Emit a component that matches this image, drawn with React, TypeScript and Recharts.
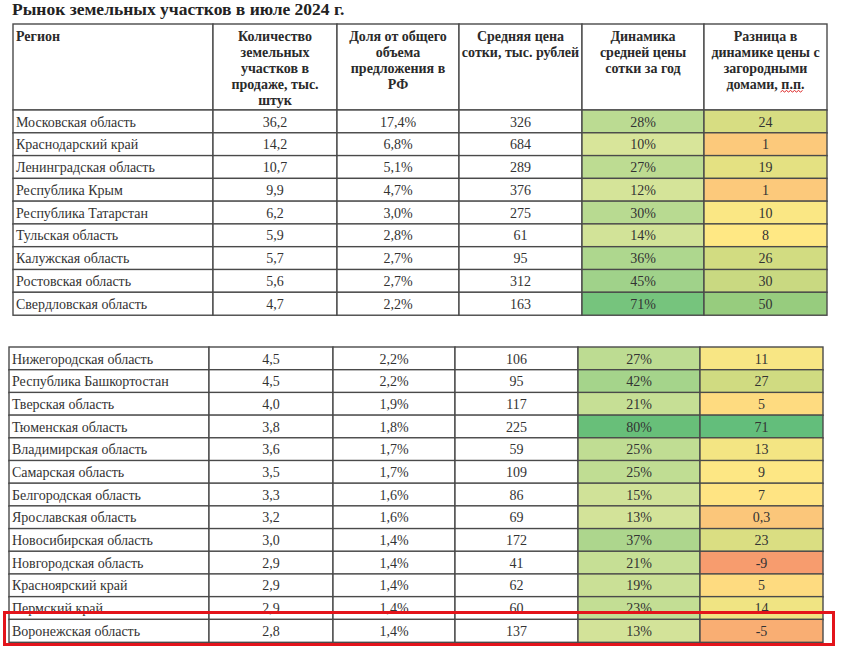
import { Bar, BarChart, XAxis, YAxis } from "recharts";

const TITLE = "Рынок земельных участков в июле 2024 г.";

const HEADERS = [
  ["Регион"],
  ["Количество", "земельных", "участков в", "продаже, тыс.", "штук"],
  ["Доля от общего", "объема", "предложения в", "РФ"],
  ["Средняя цена", "сотки, тыс. рублей"],
  ["Динамика", "средней цены", "сотки за год"],
  ["Разница в", "динамике цены с", "загородными", "домами, п.п."],
];

// top-9 regions
const REGIONS_TOP = [
  "Московская область",
  "Краснодарский край",
  "Ленинградская область",
  "Республика Крым",
  "Республика Татарстан",
  "Тульская область",
  "Калужская область",
  "Ростовская область",
  "Свердловская область",
];
const COUNT_TOP = [36.2, 14.2, 10.7, 9.9, 6.2, 5.9, 5.7, 5.6, 4.7];
const SHARE_TOP = [17.4, 6.8, 5.1, 4.7, 3.0, 2.8, 2.7, 2.7, 2.2];
const PRICE_TOP = [326, 684, 289, 376, 275, 61, 95, 312, 163];
const DYN_TOP = [28, 10, 27, 12, 30, 14, 36, 45, 71];
const DIFF_TOP = [24, 1, 19, 1, 10, 8, 26, 30, 50];

// second block
const REGIONS_REST = [
  "Нижегородская область",
  "Республика Башкортостан",
  "Тверская область",
  "Тюменская область",
  "Владимирская область",
  "Самарская область",
  "Белгородская область",
  "Ярославская область",
  "Новосибирская область",
  "Новгородская область",
  "Красноярский край",
  "Пермский край",
  "Воронежская область",
];
const COUNT_REST = [4.5, 4.5, 4.0, 3.8, 3.6, 3.5, 3.3, 3.2, 3.0, 2.9, 2.9, 2.9, 2.8];
const SHARE_REST = [2.2, 2.2, 1.9, 1.8, 1.7, 1.7, 1.6, 1.6, 1.4, 1.4, 1.4, 1.4, 1.4];
const PRICE_REST = [106, 95, 117, 225, 59, 109, 86, 69, 172, 41, 62, 60, 137];
const DYN_REST = [27, 42, 21, 80, 25, 25, 15, 13, 37, 21, 19, 23, 13];
const DIFF_REST = [11, 27, 5, 71, 13, 9, 7, 0.3, 23, -9, 5, 14, -5];

const COL_W = [200, 124, 122, 123, 122, 123];
const TABLE_W = COL_W.reduce((a, b) => a + b, 0);
const FONT = '"Liberation Serif", "Times New Roman", serif';
const BORDER = "#4a4a4a";
const TEXT = "#333";
const PAD = 2;

type Row = {
  region: string;
  count: number;
  share: number;
  price: number;
  dyn: number;
  diff: number;
};

const toRows = (
  regions: string[],
  count: number[],
  share: number[],
  price: number[],
  dyn: number[],
  diff: number[]
): Row[] =>
  regions.map((region, i) => ({
    region,
    count: count[i],
    share: share[i],
    price: price[i],
    dyn: dyn[i],
    diff: diff[i],
  }));

const ROWS_TOP = toRows(REGIONS_TOP, COUNT_TOP, SHARE_TOP, PRICE_TOP, DYN_TOP, DIFF_TOP);
const ROWS_REST = toRows(REGIONS_REST, COUNT_REST, SHARE_REST, PRICE_REST, DYN_REST, DIFF_REST);

// excel-like colour scales
const ALL_DYN = [...DYN_TOP, ...DYN_REST];
const ALL_DIFF = [...DIFF_TOP, ...DIFF_REST];
const DYN_MIN = Math.min(...ALL_DYN);
const DYN_MAX = Math.max(...ALL_DYN);
const DIFF_MIN = Math.min(...ALL_DIFF);
const DIFF_MAX = Math.max(...ALL_DIFF);
const DIFF_MID = 8;

const mix = (a: number[], b: number[], t: number) =>
  `rgb(${a.map((c, i) => Math.round(c + (b[i] - c) * t)).join(",")})`;

const dynColor = (v: number) =>
  mix([216, 229, 154], [104, 191, 121], (v - DYN_MIN) / (DYN_MAX - DYN_MIN));

const diffColor = (v: number) =>
  v <= DIFF_MID
    ? mix([247, 156, 110], [255, 232, 132], (v - DIFF_MIN) / (DIFF_MID - DIFF_MIN))
    : mix([255, 232, 132], [99, 190, 123], (v - DIFF_MID) / (DIFF_MAX - DIFF_MID));

const fmt = (v: number, digits?: number) =>
  (digits != null ? v.toFixed(digits) : String(v)).replace(".", ",");

const COLUMNS: { text: (r: Row) => string; fill?: (r: Row) => string }[] = [
  { text: (r) => r.region },
  { text: (r) => fmt(r.count, 1) },
  { text: (r) => fmt(r.share, 1) + "%" },
  { text: (r) => String(r.price) },
  { text: (r) => r.dyn + "%", fill: (r) => dynColor(r.dyn) },
  { text: (r) => fmt(r.diff), fill: (r) => diffColor(r.diff) },
];

const TEXT_STYLE = { fontFamily: FONT, fontSize: 14, fill: TEXT };

function bodyCell(col: number) {
  return (props: any) => {
    const { x, y, width, height, payload } = props;
    const spec = COLUMNS[col];
    const left = col === 0;
    return (
      <g>
        <rect
          x={x}
          y={y}
          width={width}
          height={height}
          fill={spec.fill ? spec.fill(payload) : "#fff"}
          stroke={BORDER}
          strokeWidth={1.4}
        />
        <text
          x={left ? x + 3 : x + width / 2}
          y={y + height / 2 + 5}
          textAnchor={left ? "start" : "middle"}
          style={TEXT_STYLE}
        >
          {spec.text(payload)}
        </text>
      </g>
    );
  };
}

function headerCell(col: number) {
  return (props: any) => {
    const { x, y, width, height } = props;
    const left = col === 0;
    const lines = HEADERS[col];
    return (
      <g>
        <rect x={x} y={y} width={width} height={height} fill="#fff" stroke={BORDER} strokeWidth={1.4} />
        <text
          textAnchor={left ? "start" : "middle"}
          style={{ ...TEXT_STYLE, fontWeight: "bold", fill: "#2a2a2a" }}
        >
          {lines.map((line, i) => (
            <tspan key={i} x={left ? x + 3 : x + width / 2} y={y + 17 + i * 16}>
              {line}
            </tspan>
          ))}
        </text>
        {/* spell-check squiggle under "п.п." */}
        {col === 5 && (
          <path
            d={`M${x + width / 2 + 15} ${y + 17 + 3 * 16 + 3} l2 -1.5 l2 1.5 l2 -1.5 l2 1.5 l2 -1.5 l2 1.5 l2 -1.5 l2 1.5 l2 -1.5 l2 1.5 l2 -1.5`}
            fill="none"
            stroke="#d22"
            strokeWidth={1}
          />
        )}
      </g>
    );
  };
}

function TableBlock({
  rows,
  top,
  left,
  height,
  header,
}: {
  rows: any[];
  top: number;
  left: number;
  height: number;
  header?: boolean;
}) {
  return (
    <div style={{ position: "absolute", left: 0, top: top - PAD }}>
      <BarChart
        width={850}
        height={height + PAD * 2}
        data={rows}
        layout="vertical"
        margin={{ top: PAD, right: 850 - left - TABLE_W, bottom: PAD, left }}
        barCategoryGap={0}
        barGap={0}
      >
        <XAxis type="number" domain={[0, TABLE_W]} hide />
        <YAxis type="category" dataKey="region" hide />
        {COL_W.map((w, i) => (
          <Bar
            key={i}
            dataKey={() => w}
            stackId="cols"
            isAnimationActive={false}
            shape={header ? headerCell(i) : bodyCell(i)}
          />
        ))}
      </BarChart>
    </div>
  );
}

export default function App() {
  return (
    <div
      style={{
        position: "absolute",
        left: 0,
        top: 0,
        width: 850,
        height: 657,
        background: "#fff",
        overflow: "hidden",
      }}
    >
      <div
        style={{
          position: "absolute",
          left: 12,
          top: 1,
          fontFamily: FONT,
          fontWeight: "bold",
          fontSize: 17.5,
          lineHeight: "17px",
          color: "#222",
          whiteSpace: "nowrap",
        }}
      >
        {TITLE}
      </div>
      <TableBlock rows={[{ region: "header" }]} top={24} left={13} height={86} header />
      <TableBlock rows={ROWS_TOP} top={110} left={13} height={205} />
      <TableBlock rows={ROWS_REST} top={347} left={9} height={295} />
      {/* highlight frame around the last row */}
      <div
        style={{
          position: "absolute",
          left: 3,
          top: 611,
          width: 832,
          height: 35,
          border: "3px solid #e3141b",
          boxSizing: "border-box",
        }}
      />
    </div>
  );
}
